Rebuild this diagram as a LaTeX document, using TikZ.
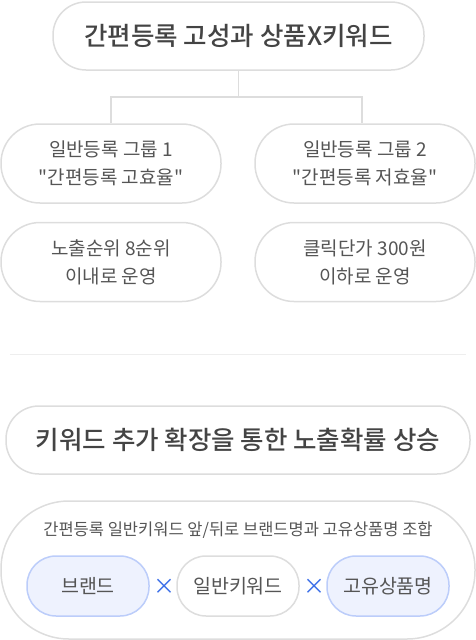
\documentclass[tikz,border=0pt]{standalone}
\usepackage{fontspec}
\setmainfont{Noto Sans CJK KR}[Ligatures=TeXOff, BoldFont={Noto Sans CJK KR Medium}]
\usepackage{tikz}
\usetikzlibrary{calc}
\definecolor{edge}{HTML}{DDDDDD}
\definecolor{ink}{HTML}{555555}
\definecolor{inkdark}{HTML}{444444}
\definecolor{bluefill}{HTML}{EEF2FE}
\definecolor{blueedge}{HTML}{BCCDFA}
\definecolor{cross}{HTML}{3A6EE8}
\definecolor{rule}{HTML}{EEEEEE}

\begin{document}
\begin{tikzpicture}[x=1pt,y=-1pt,
  headpill/.style={draw=edge, line width=1.5pt, fill=white, rounded corners=33pt, minimum width=371pt, minimum height=68pt, inner sep=0pt, text=inkdark, font=\fontsize{25.5}{28}\selectfont\bfseries},
  grouppill/.style={draw=edge, line width=1.5pt, fill=white, rounded corners=39pt, minimum width=220pt, minimum height=79pt, inner sep=0pt, align=center, text=ink, font=\fontsize{19}{28}\selectfont},
  wordpill/.style={draw=edge, line width=1.5pt, fill=white, rounded corners=29pt, minimum width=122pt, minimum height=60pt, inner sep=0pt, text=ink, font=\fontsize{19.5}{22}\selectfont},
  bluepill/.style={wordpill, draw=blueedge, fill=bluefill},
  times/.style={text=cross, inner sep=0pt, font=\fontsize{22}{22}\selectfont},
  link/.style={draw=edge, line width=1.5pt}
  ]
  \useasboundingbox (0,0) rectangle (476,640);

  % upper part
  \node[headpill] (head) at (238.5,36) {간편등록 고성과 상품X키워드};
  \node[grouppill] (groupA) at (111,163.5) {일반등록 그룹 1\\"간편등록 고효율"};
  \node[grouppill] (groupB) at (365,163.5) {일반등록 그룹 2\\"간편등록 저효율"};
  \node[grouppill] (ruleA) at (111,262) {노출순위 8순위\\이내로 운영};
  \node[grouppill] (ruleB) at (365,262) {클릭단가 300원\\이하로 운영};

  \coordinate (fork) at (238.5,97);
  \draw[link] (head.south) -- (fork);
  \draw[link] (fork) -| (groupA.north);
  \draw[link] (fork) -| ($(groupB.north)+(-3,0)$);

  % separator
  \coordinate (sepL) at (10,354);
  \coordinate (sepR) at (466,354);
  \draw[draw=rule, line width=1pt] (sepL) -- (sepR);

  % lower part
  \node[headpill, minimum width=464pt] (goal) at (238,440) {키워드 추가 확장을 통한 노출확률 상승};
  \node[draw=edge, line width=1.5pt, rounded corners=68pt, minimum width=474pt, minimum height=138pt, inner sep=0pt] (combo) at (238,570) {};
  \node[text=ink, font=\fontsize{16.5}{18}\selectfont] (combotext) at (238,530) {간편등록 일반키워드 앞/뒤로 브랜드명과 고유상품명 조합};
  \node[bluepill] (brand) at (88,586) {브랜드};
  \node[wordpill] (keyword) at (238,586) {일반키워드};
  \node[bluepill] (product) at (388,586) {고유상품명};
  \node[times] (timesA) at (164,587) {×};
  \node[times] (timesB) at (314,587) {×};
\end{tikzpicture}
\end{document}
